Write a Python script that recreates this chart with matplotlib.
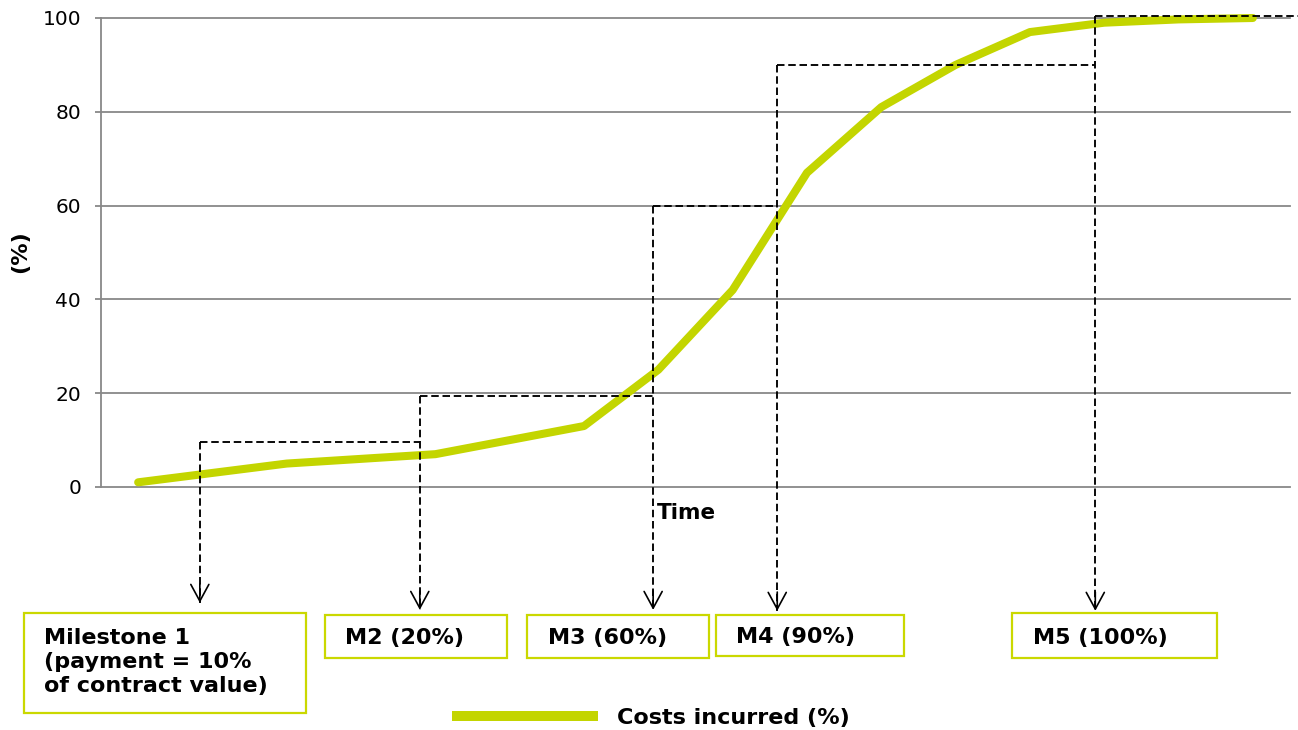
import numpy as np
import matplotlib.pyplot as plt
from matplotlib.patches import Rectangle

plt.rcParams["font.family"] = "DejaVu Sans"

W, H = 1298, 730
OUT = "out.png"

# data
time = np.arange(16)
costs = [1, 3, 5, 6, 7, 10, 13, 25, 42, 67, 81, 90, 97, 99, 99.7, 100]
yticks = [0, 20, 40, 60, 80, 100]

ms_labels = ["Milestone 1\n(payment = 10%\nof contract value)",
             "M2 (20%)", "M3 (60%)", "M4 (90%)", "M5 (100%)"]
ms_x = [0.83, 3.79, 6.93, 8.60, 12.88]       # time where milestone is reached
ms_level = [9.5, 19.5, 60, 90, 100.5]        # payment level drawn (%)
ms_tip = [-24.7, -26.2, -26.2, -26.4, -26.4]  # arrow tip below the axis
last_end = 15.61

GREEN = "#c3d500"
BOX = "#cad800"
GRID = "#888888"


def fx(x):
    return x / W


def fy(y):
    return 1 - y / H


fig = plt.figure(figsize=(W / 100, H / 100), dpi=100)
ax = fig.add_axes([fx(101), fy(487), fx(1290) - fx(101), fy(18) - fy(487)])

ax.set_xlim(-0.5, 15.5)
ax.set_ylim(0, 100)
ax.set_yticks(yticks)
ax.set_xticks([])
ax.yaxis.grid(True, color=GRID, lw=1.3)
ax.set_axisbelow(True)
for gl in ax.get_ygridlines():
    gl.set_clip_on(False)
for s in ["top", "right", "bottom"]:
    ax.spines[s].set_visible(False)
ax.spines["left"].set_color(GRID)
ax.spines["left"].set_linewidth(1.3)
ax.tick_params(axis="y", length=4.3, width=1.3, color=GRID, pad=10,
               labelsize=14.5, labelcolor="black")

# cost curve
ax.plot(time, costs, color=GREEN, lw=5.8, solid_capstyle="round",
        clip_on=False, zorder=3)

# milestone staircase (dashed) + arrows
dash = dict(color="black", lw=1.35, linestyle=(0, (4, 2)), clip_on=False, zorder=4)
for i, (x, lvl, tip) in enumerate(zip(ms_x, ms_level, ms_tip)):
    ax.plot([x, x], [lvl, tip], **dash)
    x_end = ms_x[i + 1] if i + 1 < len(ms_x) else last_end
    ax.plot([x, x_end], [lvl, lvl], **dash)
    ax.annotate("", xy=(x, tip), xytext=(x, tip + 4),
                arrowprops=dict(arrowstyle="->,head_length=1.2,head_width=0.65",
                                color="black", lw=1.2, shrinkA=0, shrinkB=0),
                annotation_clip=False, zorder=4)

# labels
fig.text(fx(20), fy(252), "(%)", rotation=90, ha="center", va="center",
         fontsize=16, fontweight="bold")
fig.text(fx(657), fy(513), "Time", ha="left", va="center",
         fontsize=15.5, fontweight="bold")

# milestone boxes
boxes = [(24, 613, 306, 713), (325, 615, 507, 658), (527, 615, 709, 658),
         (716, 615, 904, 656), (1012, 613, 1217, 658)]
text_pos = [(44, 662), (345, 638), (548, 638), (736, 637), (1033, 638)]
for (x0, y0, x1, y1), (tx, ty), lab in zip(boxes, text_pos, ms_labels):
    fig.add_artist(Rectangle((fx(x0), fy(y1)), fx(x1) - fx(x0), fy(y0) - fy(y1),
                             transform=fig.transFigure, fill=False,
                             edgecolor=BOX, lw=1.6))
    fig.text(fx(tx), fy(ty), lab, ha="left", va="center", fontsize=16,
             fontweight="bold", linespacing=1.28)

# legend
fig.add_artist(plt.Line2D([fx(457), fx(593)], [fy(716), fy(716)],
                          transform=fig.transFigure, color=GREEN, lw=7.2))
fig.text(fx(617), fy(718), "Costs incurred (%)", ha="left", va="center",
         fontsize=16, fontweight="bold")

fig.savefig(OUT, dpi=100)
plt.close(fig)
